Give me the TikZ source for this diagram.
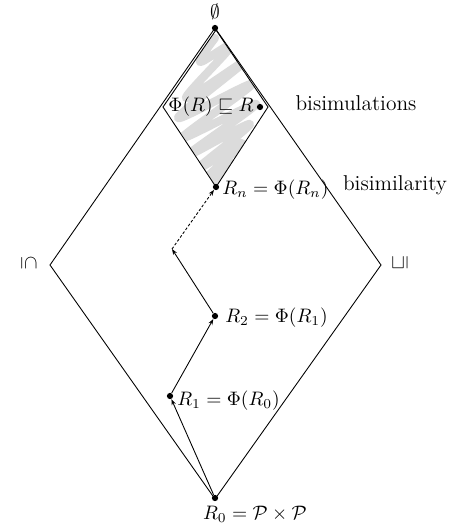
\documentclass[tikz,border=0pt]{standalone}
\usepackage{amssymb}
\usetikzlibrary{arrows.meta}
\begin{document}
\begin{tikzpicture}[x=0.513pt,y=-0.513pt,
  dot/.style={circle,fill=black,inner sep=0pt,minimum size=3.2pt},
  lbl/.style={inner sep=1pt},
  txt/.style={inner sep=1pt,font=\fontsize{11}{13}\selectfont},
  arr/.style={-{Stealth[length=3pt,width=2.2pt]}},
  edge/.style={line width=0.45pt}]
\useasboundingbox (0,0) rectangle (456,526);
% big diamond
\coordinate (T) at (215,28);
\coordinate (B) at (215,499);
\coordinate (L) at (50,265);
\coordinate (Rt) at (381,265);
\draw[edge] (T) -- (Rt) -- (B) -- (L) -- cycle;
% small diamond
\coordinate (sL) at (163,107);
\coordinate (sR) at (268,107);
\coordinate (sB) at (216,187);
\coordinate (sT) at (216,30);
\begin{scope}
\clip (sT) -- (sR) -- (sB) -- (sL) -- cycle;
\draw[gray!28,line width=4.2pt,line cap=round,line join=round]
  plot[smooth,tension=0.6] coordinates {
  (215,38) (200,62) (232,45) (186,98) (244,62) (178,118) (252,84)
  (182,138) (256,104) (188,155) (250,124) (196,170) (242,143)
  (204,180) (230,162) (213,186)};
\end{scope}
\draw[edge] (sT) -- (sR) -- (sB) -- (sL) -- cycle;
% nodes
\node[dot] (top) at (T) {};
\node[dot] (Rn) at (sB) {};
\node[dot] (bR) at (260,107) {};
\coordinate (M) at (172,249);
\node[dot] (R2) at (215,316) {};
\node[dot] (R1) at (170,396) {};
\node[dot] (R0) at (215,498) {};
% connectors
\draw[edge,arr] (R0) -- (R1);
\draw[edge,arr] (R1) -- (R2);
\draw[edge,arr] (R2) -- (M);
\draw[edge,arr,dash pattern=on 1.4pt off 1pt] (M) -- (Rn);
% labels
\node[lbl] (empty) at (215,12) {$\emptyset$};
\node[lbl] (phi) at (211,107) {$\Phi(R)\sqsubseteq R$};
\node[lbl,anchor=west] (lRn) at (220,190) {$R_n=\Phi(R_n)$};
\node[lbl,anchor=west] (lR2) at (223,318) {$R_2=\Phi(R_1)$};
\node[lbl,anchor=west] (lR1) at (175,401) {$R_1=\Phi(R_0)$};
\node[lbl] (lR0) at (255,514) {$R_0=\mathcal{P}\times\mathcal{P}$};
\node[txt] (bisim) at (356,103) {bisimulations};
\node[txt] (bisy) at (395,185) {bisimilarity};
\node[lbl,rotate=-90] (lo) at (29,263) {$\subseteq$};
\node[lbl,rotate=90] (ro) at (400,263) {$\sqsubseteq$};
\end{tikzpicture}
\end{document}
